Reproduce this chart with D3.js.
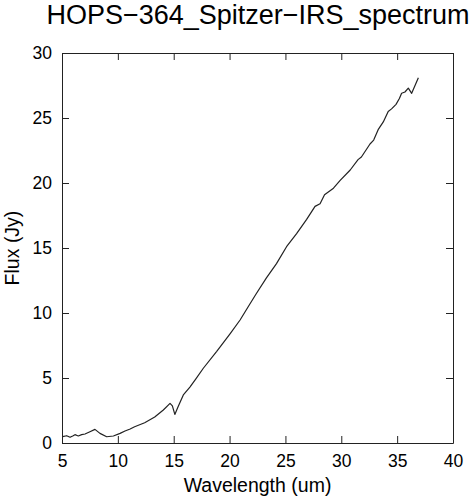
<!DOCTYPE html>
<html><head><meta charset="utf-8">
<script src="https://cdn.jsdelivr.net/npm/d3@7"></script>
<style>body{margin:0;background:#fff}svg{display:block}text{font-family:"Liberation Sans",Arial,sans-serif;fill:#000}</style>
</head><body><svg id="c" width="473" height="500"></svg>
<script>
const title = "HOPS\u2212364_Spitzer\u2212IRS_spectrum";
const xLabel = "Wavelength (um)";
const yLabel = "Flux (Jy)";
const xTicks = [5,10,15,20,25,30,35,40];
const yTicks = [0,5,10,15,20,25,30];
const wavelength = [5.06,5.42,5.72,5.96,6.16,6.46,6.76,7.06,7.5,7.95,8.4,9.0,9.6,10.2,10.64,11.1,11.5,12.4,13.3,14.07,14.67,14.88,15.1,15.4,15.86,16.45,17.0,17.65,18.85,20.04,20.94,21.68,22.4,23.3,24.2,25.1,26.0,26.9,27.65,28.1,28.5,29.3,29.9,30.8,31.5,31.8,32.57,32.9,33.3,33.76,34.2,34.5,34.9,35.2,35.4,35.7,36.0,36.3,36.9];
const flux = [0.49,0.56,0.44,0.54,0.64,0.54,0.64,0.69,0.87,1.05,0.74,0.48,0.54,0.74,0.92,1.08,1.25,1.56,2.0,2.54,3.05,2.85,2.2,2.8,3.7,4.3,4.95,5.75,7.05,8.4,9.46,10.5,11.5,12.7,13.8,15.1,16.1,17.2,18.2,18.4,19.1,19.6,20.2,21.0,21.8,22.0,23.0,23.3,24.1,24.7,25.5,25.7,26.05,26.5,26.9,27.0,27.3,26.9,28.1];

const svg = d3.select("#c");
const L=62,R=453,T=53,B=443;
const x = d3.scaleLinear().domain([5,40]).range([L,R]);
const y = d3.scaleLinear().domain([0,30]).range([B,T]);
const tk = 7;
const axisColor = "#222";

function style(g){ g.select(".domain").attr("stroke",axisColor); g.selectAll(".tick line").attr("stroke",axisColor); g.selectAll("text").style("font-size","17.5px").attr("fill","#000"); }

svg.append("g").attr("transform",`translate(0,${B})`)
  .call(d3.axisBottom(x).tickValues(xTicks).tickSize(-tk).tickSizeOuter(0).tickPadding(12).tickFormat(d3.format("d")))
  .call(style);
svg.append("g").attr("transform",`translate(0,${T})`)
  .call(d3.axisTop(x).tickValues(xTicks).tickSize(-tk).tickSizeOuter(0).tickFormat(""))
  .call(style);
svg.append("g").attr("transform",`translate(${L},0)`)
  .call(d3.axisLeft(y).tickValues(yTicks).tickSize(-tk).tickSizeOuter(0).tickPadding(10).tickFormat(d3.format("d")))
  .call(style);
svg.append("g").attr("transform",`translate(${R},0)`)
  .call(d3.axisRight(y).tickValues(yTicks).tickSize(-tk).tickSizeOuter(0).tickFormat(""))
  .call(style);

const line = d3.line().x((d,i)=>x(wavelength[i])).y(d=>y(d));
svg.append("path").datum(flux).attr("d",line).attr("fill","none").attr("stroke","#222").attr("stroke-width",1.2).attr("stroke-linejoin","round");

svg.append("text").attr("x",258).attr("y",24).attr("text-anchor","middle").style("font-size","27px").text(title);
svg.append("text").attr("x",(L+R)/2).attr("y",492).attr("text-anchor","middle").style("font-size","19.5px").text(xLabel);
svg.append("text").attr("transform",`translate(19,${(T+B)/2}) rotate(-90)`).attr("text-anchor","middle").style("font-size","19.5px").text(yLabel);
</script></body></html>
